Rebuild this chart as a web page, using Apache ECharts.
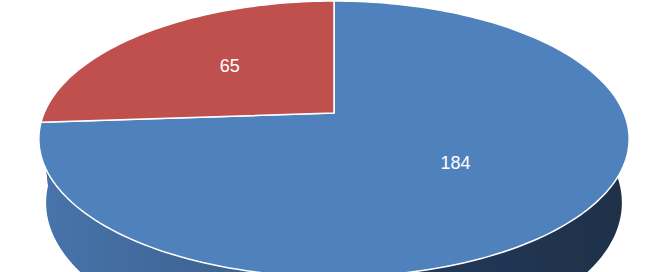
<!DOCTYPE html>
<html>
<head>
<meta charset="utf-8">
<script src="https://cdn.jsdelivr.net/npm/echarts@6/dist/echarts.min.js"></script>
<style>
html,body{margin:0;padding:0;background:#fff;}
#chart{width:669px;height:272px;}
</style>
</head>
<body>
<div id="chart"></div>
<script>
// ---- data ----
const categories = ['Category 1', 'Category 2'];
const values = [184, 65];
const topColors = ['#4F81BD', '#C0504D'];

// ---- projection of a tilted 3D pie (perspective) ----
const geo = { cx: 334, cy: 113, F: 1367, D: 4.716, s: 0.459, c: 0.888, depth: 0.25, labelR: 0.53 };
function proj(th, r, hh) {
  const X = r * Math.sin(th), Z = -r * Math.cos(th);
  const d = geo.D + hh * geo.s - Z * geo.c;
  return [geo.cx + geo.F * X / d, geo.cy + geo.F * (hh * geo.c + Z * geo.s) / d];
}
const total = values.reduce((a, b) => a + b, 0);
function angles(i, v) {
  const before = values.slice(0, i).reduce((a, b) => a + b, 0);
  return [before / total * Math.PI * 2, (before + v) / total * Math.PI * 2];
}
function arc(a1, a2, r, hh) {
  const n = Math.max(4, Math.ceil((a2 - a1) / (Math.PI * 2) * 240));
  const pts = [];
  for (let k = 0; k <= n; k++) pts.push(proj(a1 + (a2 - a1) * k / n, r, hh));
  return pts;
}

const sideFill = [
  { type: 'linear', x: 40, y: 0, x2: 630, y2: 0, global: true,
    colorStops: [
      { offset: 0, color: '#4774AB' },
      { offset: 0.3, color: '#3E6493' },
      { offset: 0.52, color: '#34557F' },
      { offset: 0.66, color: '#22385A' },
      { offset: 1, color: '#1E3148' }
    ] },
  '#8E3B39'
];

const data = values.map((v, i) => ({ name: categories[i], value: v }));

const chart = echarts.init(document.getElementById('chart'), null, { renderer: 'svg' });
chart.setOption({
  animation: false,
  backgroundColor: '#ffffff',
  series: [
    {
      type: 'custom',
      name: 'sides',
      coordinateSystem: 'none',
      z: 1,
      silent: true,
      data: data,
      renderItem: function (params, api) {
        const i = params.dataIndex;
        const v = api.value(0);
        const [a1, a2] = angles(i, v);
        const top = arc(a1, a2, 1, 0);
        const bottom = arc(a1, a2, 1, geo.depth).reverse();
        const mid = (a1 + a2) / 2;
        return {
          type: 'polygon',
          z2: Math.round(100 * (-Math.cos(mid))) + 100,
          shape: { points: top.concat(bottom) },
          style: { fill: sideFill[i % sideFill.length], stroke: null }
        };
      }
    },
    {
      type: 'custom',
      name: 'tops',
      coordinateSystem: 'none',
      z: 2,
      silent: true,
      data: data,
      renderItem: function (params, api) {
        const i = params.dataIndex;
        const v = api.value(0);
        const [a1, a2] = angles(i, v);
        const pts = [proj(0, 0, 0)].concat(arc(a1, a2, 1, 0));
        const mid = (a1 + a2) / 2;
        const lp = proj(mid, geo.labelR, 0);
        return {
          type: 'group',
          children: [
            {
              type: 'polygon',
              shape: { points: pts },
              style: { fill: topColors[i], stroke: '#ffffff', lineWidth: 1.5, lineJoin: 'round' }
            },
            {
              type: 'text',
              z2: 10,
              style: {
                text: String(v),
                x: lp[0] + 1, y: lp[1] - 2,
                fill: '#ffffff',
                fontSize: 18,
                fontFamily: '"Liberation Sans", Arial, sans-serif',
                align: 'center',
                verticalAlign: 'middle'
              }
            }
          ]
        };
      }
    }
  ]
});
</script>
</body>
</html>
